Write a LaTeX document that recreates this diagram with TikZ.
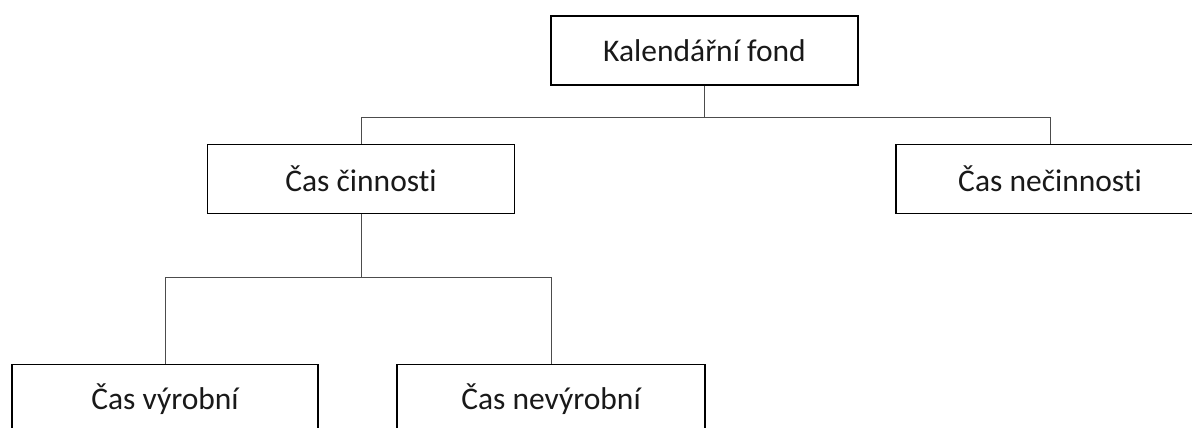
\documentclass[tikz,border=0pt]{standalone}
\usepackage{fontspec}
\setmainfont[Ligatures={NoCommon}]{Carlito}
\usetikzlibrary{calc}
\begin{document}
\begin{tikzpicture}[x=1pt,y=1pt,
  box/.style={draw=black, line width=1.6pt, fill=white, minimum width=307pt, minimum height=69pt, inner sep=0pt,
    font=\fontsize{31.5}{37}\selectfont, text=black!90},
  conn/.style={draw=black!70, line width=1pt}]
\useasboundingbox (0,0) rectangle (1192,-428);
\clip (0,0) rectangle (1192,-428);
\fill[white] (0,0) rectangle (1192,-428);
\node[box] (kal) at (704.5,-50.5) {Kalendářní fond};
\node[box] (cin) at (361,-179) {Čas činnosti};
\node[box, minimum width=308pt] (nec) at (1050,-179) {Čas nečinnosti};
\node[box, minimum width=306pt] (vyr) at (165,-399) {Čas výrobní};
\node[box, minimum width=308pt] (nev) at (551,-399) {Čas nevýrobní};
\coordinate (j1) at ($(kal.south)+(0,-32)$);
\coordinate (j2) at ($(cin.south)+(0,-63)$);
\draw[conn] (kal.south) -- (j1);
\draw[conn] (j1) -| (cin.north);
\draw[conn] (j1) -| (nec.north);
\draw[conn] (cin.south) -- (j2);
\draw[conn] (j2) -| (vyr.north);
\draw[conn] (j2) -| (nev.north);
\end{tikzpicture}
\end{document}
